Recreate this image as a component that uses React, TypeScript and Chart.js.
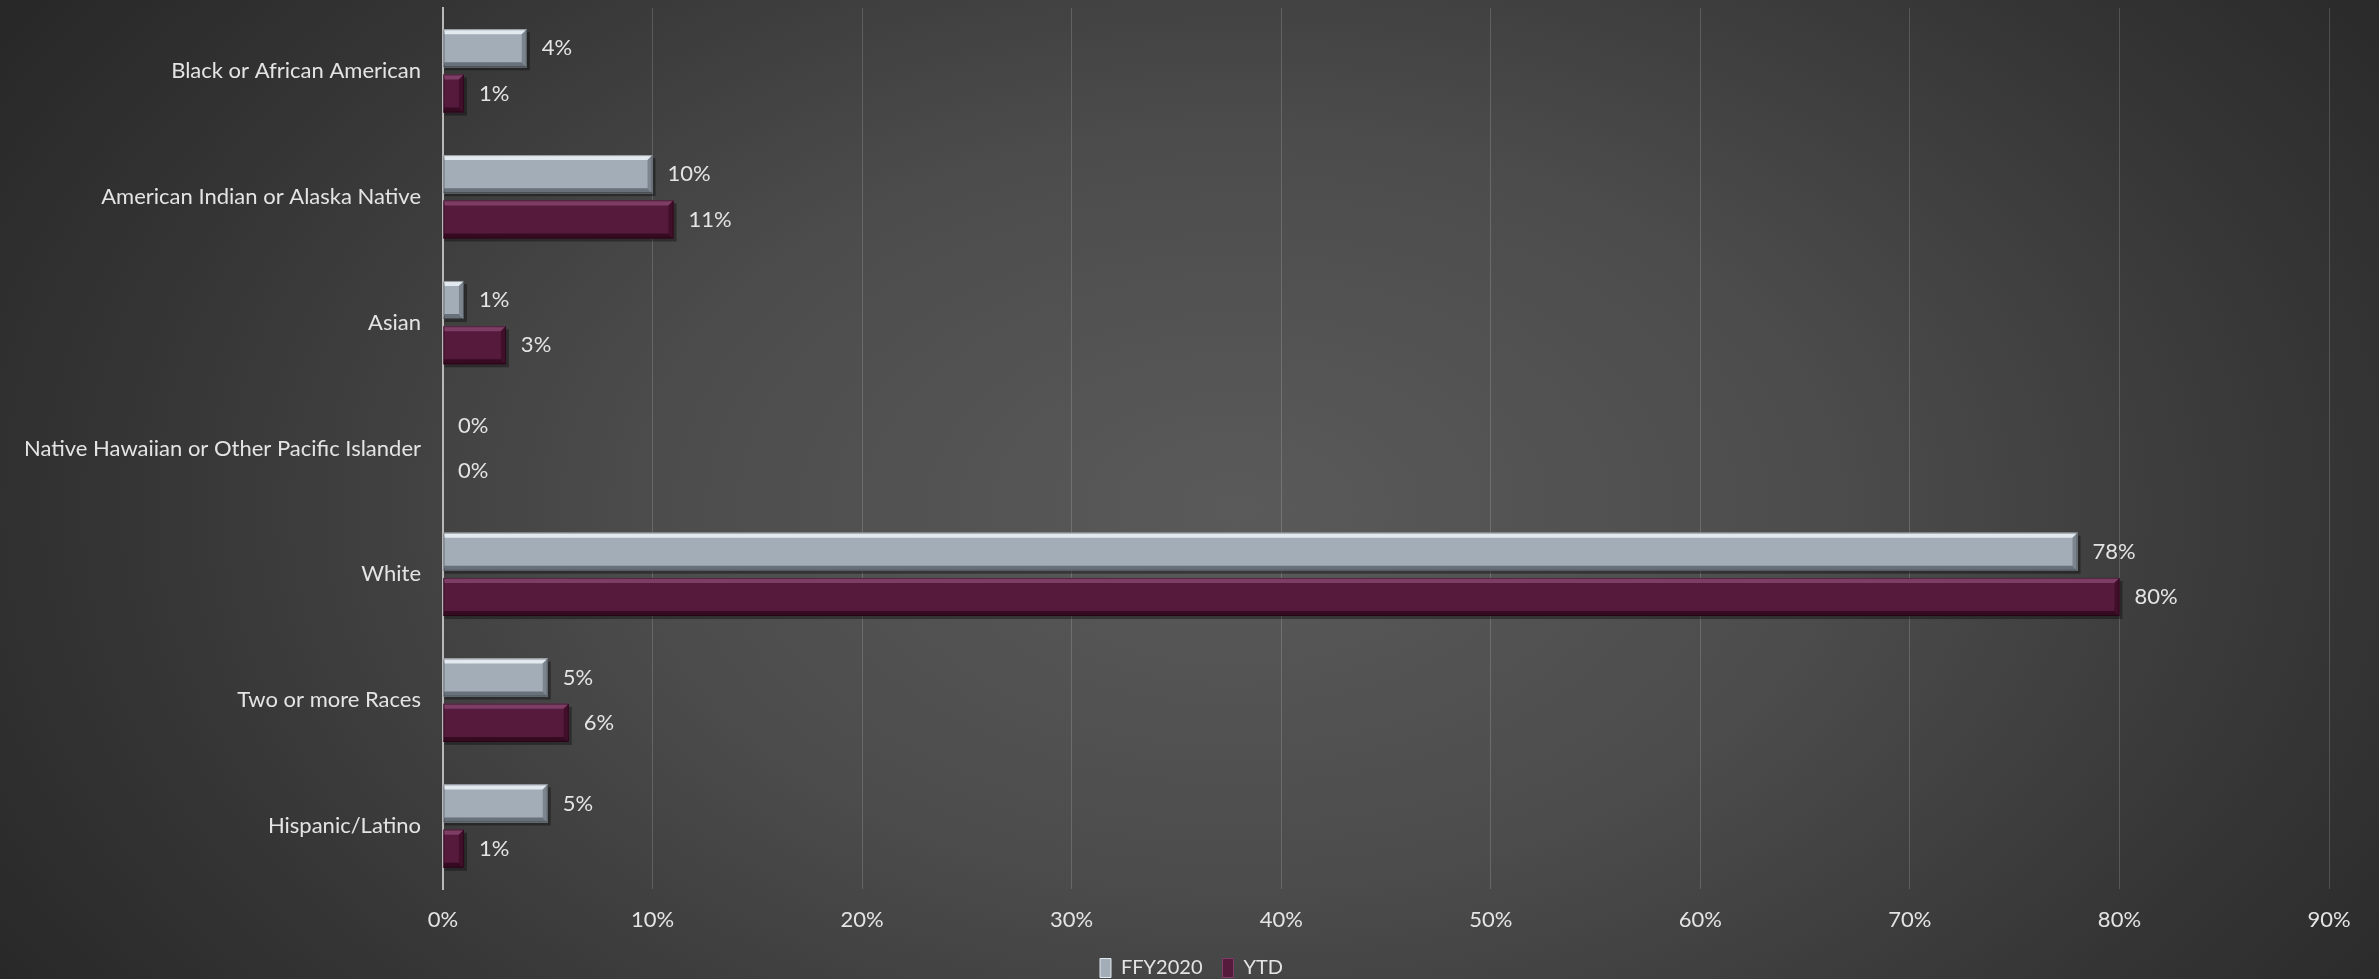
import React, { useEffect, useRef } from "react";
import { Chart, registerables } from "chart.js";

Chart.register(...registerables);

const categories = [
  "Black or African American",
  "American Indian or Alaska Native",
  "Asian",
  "Native Hawaiian or Other Pacific Islander",
  "White",
  "Two or more Races",
  "Hispanic/Latino",
];
const ffy2020 = [4, 10, 1, 0, 78, 5, 5];
const ytd = [1, 11, 3, 0, 80, 6, 1];
const seriesNames = ["FFY2020", "YTD"];
const xMin = 0;
const xMax = 90;
const xStep = 10;

const FONT = "Lato, 'Open Sans', sans-serif";
const TEXT = "#e4e4e4";

const palettes = [
  { face: "#a3adb7", light: "#e2e9ef", dark: "#68717a", side: "#7c858e" },
  { face: "#561a3d", light: "#7e3d64", dark: "#360b22", side: "#420f2b" },
];

const shadowPlugin = {
  id: "barShadow",
  beforeDatasetsDraw(chart: any) {
    const ctx = chart.ctx;
    ctx.save();
    chart.data.datasets.forEach((_ds: any, di: number) => {
      const meta = chart.getDatasetMeta(di);
      meta.data.forEach((bar: any) => {
        const { x, y, base, height } = bar.getProps(["x", "y", "base", "height"], true);
        const w = x - base;
        if (w <= 0.5) return;
        ctx.fillStyle = "rgba(0,0,0,0.35)";
        ctx.fillRect(base + 1, y - height / 2 + 3, w + 2, height);
      });
    });
    ctx.restore();
  },
};

const bevelPlugin = {
  id: "bevel",
  afterDatasetsDraw(chart: any) {
    const ctx = chart.ctx;
    ctx.save();
    chart.data.datasets.forEach((ds: any, di: number) => {
      const meta = chart.getDatasetMeta(di);
      const pal = palettes[di];
      meta.data.forEach((bar: any, i: number) => {
        const { x, y, base, height } = bar.getProps(["x", "y", "base", "height"], true);
        const w = x - base;
        const top = y - height / 2;
        const bottom = y + height / 2;
        if (w > 0.5) {
          const b = Math.min(5, w / 2);
          ctx.fillStyle = pal.face;
          ctx.fillRect(base, top, w, height);
          ctx.fillStyle = pal.light;
          ctx.beginPath();
          ctx.moveTo(base, top);
          ctx.lineTo(x, top);
          ctx.lineTo(x - b, top + b);
          ctx.lineTo(base + 1, top + b);
          ctx.closePath();
          ctx.fill();
          ctx.fillStyle = pal.dark;
          ctx.beginPath();
          ctx.moveTo(base, bottom);
          ctx.lineTo(x, bottom);
          ctx.lineTo(x - b, bottom - b);
          ctx.lineTo(base + 1, bottom - b);
          ctx.closePath();
          ctx.fill();
          ctx.fillStyle = pal.side;
          ctx.beginPath();
          ctx.moveTo(x, top);
          ctx.lineTo(x, bottom);
          ctx.lineTo(x - b, bottom - b);
          ctx.lineTo(x - b, top + b);
          ctx.closePath();
          ctx.fill();
          ctx.strokeStyle = "rgba(0,0,0,0.35)";
          ctx.lineWidth = 1;
          ctx.strokeRect(base + 0.5, top + 0.5, w - 1, height - 1);
        }
        const v = ds.data[i];
        ctx.fillStyle = TEXT;
        ctx.font = `22px ${FONT}`;
        ctx.textAlign = "left";
        ctx.textBaseline = "middle";
        ctx.fillText(`${v}%`, Math.max(x, base) + 15, y);
      });
    });
    ctx.restore();
  },
};

export default function App() {
  const ref = useRef<HTMLCanvasElement | null>(null);

  useEffect(() => {
    if (!ref.current) return;
    const chart = new Chart(ref.current, {
      type: "bar",
      data: {
        labels: categories,
        datasets: [
          {
            label: seriesNames[0],
            data: ffy2020,
            backgroundColor: palettes[0].face,
            borderWidth: 0,
            categoryPercentage: 0.72,
            barPercentage: 0.84,
          },
          {
            label: seriesNames[1],
            data: ytd,
            backgroundColor: palettes[1].face,
            borderWidth: 0,
            categoryPercentage: 0.72,
            barPercentage: 0.84,
          },
        ],
      },
      options: {
        indexAxis: "y",
        animation: false,
        responsive: false,
        maintainAspectRatio: false,
        layout: { padding: { top: 8, right: 50, left: 0, bottom: 0 } },
        scales: {
          x: {
            min: xMin,
            max: xMax,
            ticks: {
              stepSize: xStep,
              color: TEXT,
              font: { family: FONT, size: 22 },
              padding: 18,
              callback: (v: any) => `${v}%`,
            },
            grid: {
              color: "rgba(255,255,255,0.16)",
              lineWidth: 1,
              drawTicks: false,
            },
            border: { display: false },
            afterFit: (scale: any) => {
              scale.height = 49;
            },
          },
          y: {
            ticks: {
              color: TEXT,
              font: { family: FONT, size: 22 },
              padding: 22,
            },
            grid: { display: false, drawTicks: false },
            border: { display: true, color: "#b8b8b8", width: 2 },
            afterFit: (scale: any) => {
              scale.width = 443;
              scale.paddingTop = 0;
              scale.paddingBottom = 0;
            },
          },
        },
        plugins: {
          legend: {
            display: true,
            position: "bottom",
            labels: {
              color: TEXT,
              font: { family: FONT, size: 20 },
              boxWidth: 11,
              boxHeight: 19,
              padding: 20,
              generateLabels: (c: any) =>
                c.data.datasets.map((d: any, i: number) => ({
                  text: d.label,
                  fillStyle: palettes[i].face,
                  strokeStyle: palettes[i].light,
                  lineWidth: 1,
                  fontColor: TEXT,
                  datasetIndex: i,
                  hidden: false,
                })),
            },
          },
          tooltip: { enabled: false },
          title: { display: false },
        },
      },
      plugins: [shadowPlugin, bevelPlugin],
    });
    const lg: any = (chart as any).legend;
    if (lg) {
      const origFit = lg.fit.bind(lg);
      lg.fit = () => {
        origFit();
        lg.height = Math.max(0, lg.height - 9);
      };
      const origDraw = lg.draw.bind(lg);
      lg.draw = () => {
        const ctx = chart.ctx;
        ctx.save();
        ctx.translate(27, 0);
        origDraw();
        ctx.restore();
      };
      chart.update();
    }
    return () => chart.destroy();
  }, []);

  return (
    <div
      style={{
        position: "absolute",
        left: 0,
        top: 0,
        width: 2379,
        height: 979,
        background:
          "radial-gradient(ellipse 62% 95% at 52% 52%, #5a5a5a 0%, #4c4c4c 40%, #353535 75%, #272727 100%)",
      }}
    >
      <canvas ref={ref} width={2379} height={979} style={{ display: "block" }} />
    </div>
  );
}
